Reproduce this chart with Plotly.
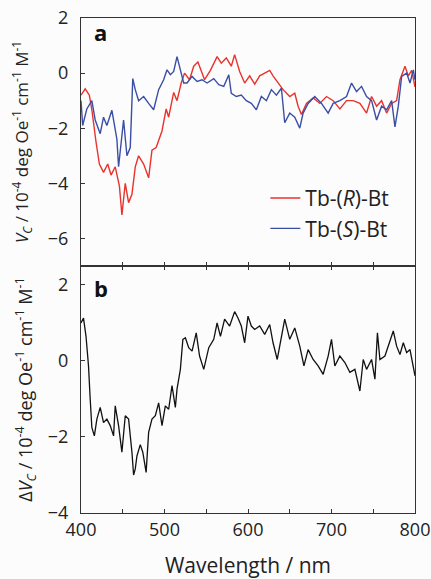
import plotly.graph_objects as go

# ---- data ----
wl_R = [400, 405, 410, 413, 418, 422, 427, 432, 436, 441, 446, 449, 453, 457, 461, 465, 469, 475, 481, 485,
        490, 497, 502, 505, 511, 515, 520, 524, 530, 535, 540, 545, 548, 555, 563, 568, 574, 580, 584, 590,
        596, 602, 608, 614, 620, 626, 630, 636, 642, 650, 656, 660, 664, 670, 678, 686, 694, 702, 710, 718,
        726, 734, 742, 748, 754, 760, 766, 772, 778, 782, 788, 792, 796, 800]
v_R = [-0.8, -0.57, -0.8, -1.33, -2.5, -3.3, -3.6, -3.3, -3.7, -3.4, -4.1, -5.15, -4.0, -4.7, -4.4, -3.4, -3.0, -3.3, -3.8, -2.8,
       -2.7, -2.1, -1.3, -1.6, -0.7, -1.0, -0.36, 0.0, -0.24, 0.25, 0.4, 0.0, -0.24, 0.1, 0.6, 0.36, 0.55, 0.25, 0.67, 0.06,
       -0.36, -0.1, -0.4, -0.1, 0.0, 0.1, -0.1, -0.36, -0.6, -0.85, -0.73, -1.2, -1.5, -1.1, -0.9, -1.1, -0.85, -1.0, -1.3, -1.0,
       -1.0, -1.1, -1.45, -0.85, -1.2, -1.0, -1.45, -1.1, -1.0, -0.24, 0.25, -0.1, 0.1, -0.5]

wl_S = [400, 402, 407, 413, 417, 423, 427, 431, 437, 443, 445, 449, 451, 455, 459, 462, 465, 469, 475, 481,
        487, 493, 499, 503, 507, 511, 515, 519, 523, 527, 533, 539, 545, 551, 559, 565, 571, 577, 580, 586,
        592, 598, 604, 610, 616, 622, 628, 634, 640, 644, 650, 656, 662, 666, 672, 680, 688, 696, 702, 710,
        718, 724, 730, 736, 742, 748, 754, 760, 766, 772, 776, 780, 784, 790, 794, 798, 800]
v_S = [-1.0, -1.9, -1.3, -1.0, -1.7, -2.2, -1.6, -1.9, -1.35, -2.4, -3.4, -2.4, -1.7, -3.0, -2.7, -0.2, -0.6, -1.0, -0.85, -1.1,
       -1.33, -0.6, -0.24, 0.12, -0.06, 0.06, 0.6, 0.12, -0.36, -0.36, -0.12, -0.3, -0.24, -0.36, -0.2, -0.42, -0.48, -0.06, -0.73, -0.85,
       -0.8, -1.0, -1.1, -1.33, -0.85, -1.0, -0.6, -0.8, -0.55, -1.8, -1.45, -1.6, -2.0, -1.45, -1.1, -0.85, -1.1, -1.45, -1.1, -1.0,
       -0.85, -0.36, -0.67, -0.48, -0.85, -1.0, -1.7, -1.2, -1.33, -1.0, -1.95, -1.2, -0.12, 0.0, -0.36, 0.12, -0.24]

wl_D = [400, 403, 406, 409, 411, 413, 416, 419, 423, 427, 431, 435, 439, 441, 445, 449, 453, 457, 461, 463,
        465, 467, 471, 474, 478, 481, 485, 489, 493, 497, 501, 505, 509, 513, 515, 519, 522, 525, 529, 533,
        538, 542, 547, 553, 559, 563, 567, 572, 578, 584, 588, 592, 596, 600, 604, 608, 614, 620, 626, 630,
        635, 640, 644, 650, 656, 662, 667, 672, 678, 684, 690, 696, 700, 704, 710, 716, 722, 728, 734, 738,
        742, 748, 752, 755, 758, 764, 768, 774, 778, 782, 786, 790, 794, 800]
dv = [1.0, 1.13, 0.65, -0.13, -1.0, -1.75, -1.97, -1.53, -1.22, -1.62, -1.53, -1.7, -1.97, -1.18, -1.7, -2.4, -1.44, -1.53, -2.4, -3.0,
      -2.84, -2.5, -2.2, -2.4, -2.93, -1.88, -1.53, -1.44, -1.1, -1.7, -1.18, -1.27, -0.65, -1.22, -0.74, -0.22, 0.57, 0.61, 0.35, 0.26,
      0.74, 0.13, -0.22, 0.35, 0.57, 1.0, 0.65, 1.1, 0.92, 1.3, 1.13, 0.92, 0.48, 1.18, 0.92, 0.83, 0.92, 0.7, 0.96, 0.48,
      0.04, 0.65, 1.1, 0.57, 0.87, 0.39, -0.13, 0.3, 0.04, -0.13, -0.35, 0.13, 0.57, -0.13, 0.13, -0.04, -0.3, -0.22, -0.79, 0.04,
      -0.22, 0.04, -0.48, 0.74, 0.04, 0.13, 0.39, 0.79, 0.39, 0.17, 0.48, 0.22, 0.3, -0.39]

x_tick_vals = [400, 450, 500, 550, 600, 650, 700, 750, 800]
x_tick_text = ["400", "", "500", "", "600", "", "700", "", "800"]
top_y_ticks = [2, 0, -2, -4, -6]
bot_y_ticks = [2, 0, -2, -4]

FONT = "Open Sans"
TXT = "#222222"
BG = "#fcfcfd"

fig = go.Figure()
fig.add_trace(go.Scatter(x=wl_R, y=v_R, mode="lines", name="Tb-(<i>R</i>)-Bt",
                         line=dict(color="#e8332c", width=1.4), xaxis="x2", yaxis="y2"))
fig.add_trace(go.Scatter(x=wl_S, y=v_S, mode="lines", name="Tb-(<i>S</i>)-Bt",
                         line=dict(color="#3a4ea6", width=1.4), xaxis="x2", yaxis="y2"))
fig.add_trace(go.Scatter(x=wl_D, y=dv, mode="lines", showlegend=False,
                         line=dict(color="#111111", width=1.3), xaxis="x", yaxis="y"))

axis_common = dict(showgrid=False, zeroline=False, showline=True, linecolor="#333333", linewidth=1,
                   ticks="inside", ticklen=4, tickcolor="#333333", automargin=False,
                   tickfont=dict(family=FONT, size=18, color=TXT))

fig.update_layout(
    width=431, height=579,
    margin=dict(l=81, r=16, t=18, b=66),
    paper_bgcolor=BG, plot_bgcolor=BG,
    font=dict(family=FONT, color=TXT),
    showlegend=True,
    legend=dict(x=0.552, y=0.677, xanchor="left", yanchor="top", bgcolor="rgba(0,0,0,0)",
                font=dict(family=FONT, size=21, color=TXT), tracegroupgap=0, itemwidth=30),
    xaxis=dict(axis_common, range=[400, 800], domain=[0, 1], anchor="y", mirror="ticks",
               tickvals=x_tick_vals, ticktext=x_tick_text,
               title=dict(text="Wavelength / nm", font=dict(family=FONT, size=21, color=TXT), standoff=22)),
    xaxis2=dict(axis_common, range=[400, 800], domain=[0, 1], anchor="y2", mirror=True,
                matches="x", tickvals=x_tick_vals, showticklabels=False),
    yaxis=dict(axis_common, range=[-4, 2.5], domain=[0, 0.499], anchor="x", mirror=True,
               tickvals=bot_y_ticks, ticklabelstandoff=8,
               title=dict(text="Δ<i>V<sub>C</sub></i> / 10<sup>-4</sup> deg Oe<sup>-1</sup> cm<sup>-1</sup> M<sup>-1</sup>",
                          font=dict(family=FONT, size=18, color=TXT), standoff=10)),
    yaxis2=dict(axis_common, range=[-7, 2], domain=[0.499, 1], anchor="x2", mirror=True,
                tickvals=top_y_ticks, ticklabelstandoff=8,
                title=dict(text="<i>V<sub>C</sub></i> / 10<sup>-4</sup> deg Oe<sup>-1</sup> cm<sup>-1</sup> M<sup>-1</sup>",
                           font=dict(family=FONT, size=17, color=TXT), standoff=14)),
)

fig.add_annotation(x=0.032, y=0.972, xref="paper", yref="paper", text="<b>a</b>", showarrow=False,
                   xanchor="left", yanchor="middle", font=dict(family=FONT, size=22, color="#111"))
fig.add_annotation(x=0.032, y=0.4545, xref="paper", yref="paper", text="<b>b</b>", showarrow=False,
                   xanchor="left", yanchor="middle", font=dict(family=FONT, size=22, color="#111"))

# remove the default 8px page margin so the figure fills the window exactly
fig.write_html("out.html", config={"displayModeBar": False},
               post_script="document.body.style.margin='0';")
